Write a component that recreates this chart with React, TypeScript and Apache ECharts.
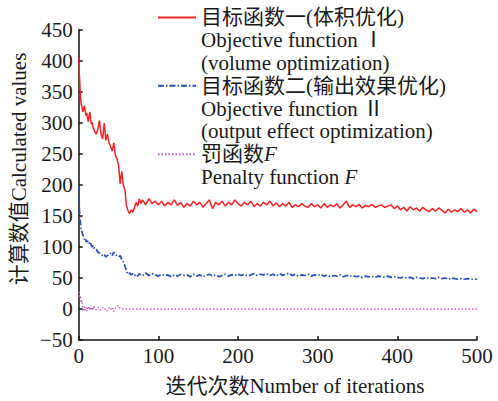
import React, { useEffect, useRef } from "react";
import * as echarts from "echarts";

const iterations = [
  0, 1, 2, 3, 4, 5, 6, 7, 8, 9, 10, 11, 12, 13, 14, 15, 16, 17, 18, 19, 20,
  22, 24, 26, 28, 30, 32, 34, 36, 38, 40, 42, 44, 46, 48, 50, 52, 54, 56, 58, 60, 62, 64, 66, 68, 70, 72, 74, 76, 78, 80,
  84, 88, 92, 96, 100, 104, 108, 112, 116, 120,
  124, 128, 132, 136, 140, 144, 148, 152, 156, 160,
  164, 168, 172, 176, 180, 184, 188, 192, 196, 200,
  204, 208, 212, 216, 220, 224, 228, 232, 236, 240,
  244, 248, 252, 256, 260, 264, 268, 272, 276, 280,
  284, 288, 292, 296, 300, 304, 308, 312, 316, 320,
  324, 328, 332, 336, 340, 344, 348, 352, 356, 360,
  364, 368, 372, 376, 380, 384, 388, 392, 396, 400,
  404, 408, 412, 416, 420, 424, 428, 432, 436, 440,
  444, 448, 452, 456, 460, 464, 468, 472, 476, 480,
  484, 488, 492, 496, 500,
];

const objective1 = [
  405, 372, 346, 331, 326, 318, 322, 328, 320, 312, 316, 308, 302, 312, 318, 305, 298, 301, 292, 290, 286,
  282, 290, 304, 282, 274, 300, 272, 282, 268, 262, 255, 268, 248, 242, 232, 202, 222, 200, 192, 166, 158, 154, 160, 156, 164, 172, 166, 178, 170, 176,
  168, 178, 170, 174, 168, 174, 166, 172, 168, 176,
  167, 172, 164, 170, 166, 174, 168, 172, 164, 170,
  176, 162, 172, 168, 174, 166, 172, 168, 176, 170,
  166, 172, 168, 174, 165, 170, 166, 172, 168, 174,
  166, 171, 165, 170, 166, 172, 164, 168, 165, 170,
  166, 164, 170, 165, 168, 163, 170, 164, 168, 165,
  170, 163, 168, 174, 164, 168, 165, 169, 163, 167,
  165, 169, 164, 166, 168, 164, 166, 168, 162, 166,
  160, 164, 158, 165, 160, 163, 158, 164, 160, 157,
  162, 158, 163, 159, 155, 161, 156, 160, 157, 162,
  156, 160, 155, 161, 157,
];

const objective2 = [
  200, 155, 140, 130, 125, 120, 116, 112, 114, 110, 108, 110, 106, 107, 104, 106, 102, 100, 102, 98, 99,
  96, 92, 90, 88, 86, 88, 84, 86, 88, 90, 86, 92, 88, 86, 84, 86, 80, 76, 70, 60, 56, 58, 55, 57, 54, 56, 53, 57, 55, 54,
  58, 54, 57, 55, 53, 56, 54, 55, 52, 55,
  53, 56, 54, 55, 52, 56, 53, 55, 52, 54,
  56, 53, 55, 52, 54, 56, 53, 55, 54, 56,
  54, 56, 53, 55, 57, 54, 56, 55, 57, 54,
  56, 53, 57, 54, 56, 58, 54, 56, 53, 55,
  54, 56, 53, 55, 54, 56, 53, 55, 52, 54,
  53, 55, 52, 54, 53, 54, 52, 53, 51, 53,
  52, 53, 51, 53, 52, 51, 53, 51, 52, 51,
  50, 52, 50, 51, 49, 51, 50, 49, 51, 49,
  50, 49, 51, 49, 50, 48, 50, 49, 48, 49,
  48, 49, 48, 48, 48,
];

const penalty = [
  28, 18, 22, 10, 14, 2, -4, 4, -2, 3, -3, 2, -1, 4, 0, -2, 3, 1, -2, 5, 1,
  -1, 3, 0, -2, 2, -1, 1, -3, 2, -1, 3, -4, 1, 4, 6, 1, 0, 0, 0, 0, 0, 0, 0, 0, 0, 0, 0, 0, 0, 0,
  0, 0, 0, 0, 0, 0, 0, 0, 0, 0,
  0, 0, 0, 0, 0, 0, 0, 0, 0, 0,
  0, 0, 0, 0, 0, 0, 0, 0, 0, 0,
  0, 0, 0, 0, 0, 0, 0, 0, 0, 0,
  0, 0, 0, 0, 0, 0, 0, 0, 0, 0,
  0, 0, 0, 0, 0, 0, 0, 0, 0, 0,
  0, 0, 0, 0, 0, 0, 0, 0, 0, 0,
  0, 0, 0, 0, 0, 0, 0, 0, 0, 0,
  0, 0, 0, 0, 0, 0, 0, 0, 0, 0,
  0, 0, 0, 0, 0, 0, 0, 0, 0, 0,
  0, 0, 0, 0, 0,
];

const seriesNames = ["目标函数一(体积优化)", "目标函数二(输出效果优化)", "罚函数F"];
const legendTexts: Record<string, string> = {
  "目标函数一(体积优化)": "目标函数一(体积优化)\nObjective function Ⅰ\n(volume optimization)",
  "目标函数二(输出效果优化)": "目标函数二(输出效果优化)\nObjective function Ⅱ\n(output effect optimization)",
  "罚函数F": "罚函数{i|F}\nPenalty function {i|F}\n ",
};

const xTicks = { min: 0, max: 500, interval: 100 };
const yTicks = { min: -50, max: 450, interval: 50 };

const FONT = "'Liberation Serif', 'Times New Roman', 'Noto Sans CJK SC', serif";
const TEXT_COLOR = "#1a1a1a";
const LH = 22.8;
const FS = 21;

export default function App() {
  const ref = useRef<HTMLDivElement>(null);
  useEffect(() => {
    document.body.style.margin = "0";
    if (!ref.current) return;
    const chart = echarts.init(ref.current, undefined, { renderer: "svg" });
    const pairs = (vals: number[]) => iterations.map((x, i) => [x, vals[i]]);
    chart.setOption({
      animation: false,
      backgroundColor: "#ffffff",
      grid: { left: 78, right: 21, top: 30, bottom: 55, containLabel: false },
      xAxis: {
        type: "value",
        min: xTicks.min,
        max: xTicks.max,
        interval: xTicks.interval,
        name: "迭代次数Number of iterations",
        nameLocation: "middle",
        nameGap: 35,
        nameTextStyle: { fontFamily: FONT, fontSize: FS, color: TEXT_COLOR, padding: [0, 0, 0, 34] },
        axisLine: { show: true, onZero: false, lineStyle: { color: "#111", width: 1.5 } },
        axisTick: { show: true, inside: true, length: 4, lineStyle: { color: "#111", width: 1.5 } },
        axisLabel: { fontFamily: FONT, fontSize: FS, color: TEXT_COLOR, margin: 5 },
        splitLine: { show: false },
      },
      yAxis: {
        type: "value",
        min: yTicks.min,
        max: yTicks.max,
        interval: yTicks.interval,
        name: "计算数值Calculated values",
        nameLocation: "middle",
        nameGap: 38,
        nameTextStyle: { fontFamily: FONT, fontSize: FS, color: TEXT_COLOR, padding: [0, 0, 0, 32] },
        axisLine: { show: true, lineStyle: { color: "#111", width: 1.5 } },
        axisTick: { show: true, inside: true, length: 4, lineStyle: { color: "#111", width: 1.5 } },
        axisLabel: {
          fontFamily: FONT,
          fontSize: FS,
          color: TEXT_COLOR,
          margin: 6,
          formatter: (v: number) => (v < 0 ? "\u2212" + Math.abs(v) : String(v)),
        },
        splitLine: { show: false },
      },
      legend: {
        orient: "vertical",
        left: 157,
        top: 6 - 2 * LH,
        padding: 0,
        itemGap: -2 * LH,
        itemWidth: 38,
        itemHeight: 14,
        data: seriesNames,
        formatter: (name: string) => legendTexts[name],
        itemStyle: { color: "rgba(0,0,0,0)", borderWidth: 0, opacity: 0 },
        textStyle: {
          fontFamily: FONT,
          fontSize: FS,
          color: TEXT_COLOR,
          lineHeight: LH,
          padding: [LH * 2, 0, 0, 0],
          rich: {
            i: { fontFamily: "'Liberation Serif', serif", fontStyle: "italic", fontSize: FS, color: TEXT_COLOR, lineHeight: LH },
          },
        },
      },
      series: [
        {
          name: seriesNames[0],
          type: "line",
          data: pairs(objective1),
          showSymbol: false,
          symbol: "none",
          lineStyle: { color: "#f52222", width: 1.5, type: "solid" },
          itemStyle: { color: "#f52222" },
          z: 3,
        },
        {
          name: seriesNames[1],
          type: "line",
          data: pairs(objective2),
          showSymbol: false,
          symbol: "none",
          lineStyle: { color: "#2a4fb4", width: 1.7, type: [6, 2, 1.5, 2] },
          itemStyle: { color: "#2a4fb4" },
          z: 2,
        },
        {
          name: seriesNames[2],
          type: "line",
          data: pairs(penalty),
          showSymbol: false,
          symbol: "none",
          lineStyle: { color: "#cc5cc0", width: 1.4, type: [1.5, 2] },
          itemStyle: { color: "#cc5cc0" },
          z: 1,
        },
      ],
    });
    return () => chart.dispose();
  }, []);
  return <div ref={ref} style={{ width: 498, height: 401 }} />;
}
